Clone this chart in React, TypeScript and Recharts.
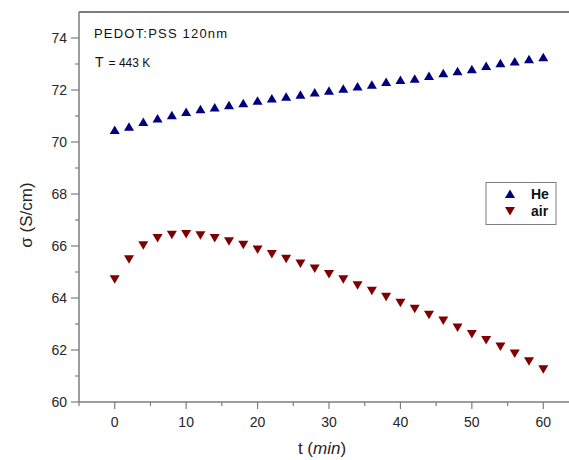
import React from 'react';
import { ScatterChart, Scatter, XAxis, YAxis, ReferenceLine } from 'recharts';

const times = [0, 2, 4, 6, 8, 10, 12, 14, 16, 18, 20, 22, 24, 26, 28, 30, 32, 34, 36, 38, 40, 42, 44, 46, 48, 50, 52, 54, 56, 58, 60];
const heValues = [70.46, 70.59, 70.77, 70.9, 71.03, 71.15, 71.26, 71.33, 71.41, 71.49, 71.59, 71.67, 71.74, 71.82, 71.9, 71.97, 72.05, 72.13, 72.2, 72.31, 72.38, 72.43, 72.54, 72.64, 72.72, 72.8, 72.92, 73.03, 73.1, 73.18, 73.26];
const airValues = [64.72, 65.49, 66.03, 66.31, 66.43, 66.46, 66.41, 66.31, 66.18, 66.05, 65.87, 65.69, 65.51, 65.33, 65.13, 64.92, 64.72, 64.49, 64.28, 64.05, 63.82, 63.59, 63.36, 63.13, 62.87, 62.62, 62.38, 62.13, 61.87, 61.57, 61.26];
const xTicks = [-5, 0, 5, 10, 15, 20, 25, 30, 35, 40, 45, 50, 55, 60];
const yTicks = [60, 61, 62, 63, 64, 65, 66, 67, 68, 69, 70, 71, 72, 73, 74];
const seriesNames = ['He', 'air'];

const heData = times.map((t, i) => ({ t, v: heValues[i] }));
const airData = times.map((t, i) => ({ t, v: airValues[i] }));

const AXIS = '#7d7d7d';
const FONT = 'Arial, "Liberation Sans", sans-serif';
const HE = '#00007f';
const AIR = '#7f0000';

const TriUp = (props: any) => {
  const { cx, cy, fill } = props;
  return <polygon points={`${cx - 5},${cy + 4} ${cx + 5},${cy + 4} ${cx},${cy - 4.5}`} fill={fill} />;
};
const TriDown = (props: any) => {
  const { cx, cy, fill } = props;
  return <polygon points={`${cx - 5},${cy - 4} ${cx + 5},${cy - 4} ${cx},${cy + 4.5}`} fill={fill} />;
};

const XTick = (props: any) => {
  const { x, y, payload } = props;
  const major = payload.value % 10 === 0;
  return (
    <g>
      <line x1={x} x2={x} y1={y} y2={y + (major ? 7 : 4)} stroke={AXIS} strokeWidth={1.2} />
      {major && (
        <text x={x} y={y + 25} textAnchor="middle" fontSize={14} fontFamily={FONT} fill="#262626">
          {payload.value}
        </text>
      )}
    </g>
  );
};

const YTick = (props: any) => {
  const { x, y, payload } = props;
  const major = payload.value % 2 === 0;
  return (
    <g>
      <line x1={x} x2={x - (major ? 8 : 4)} y1={y} y2={y} stroke={AXIS} strokeWidth={1.2} />
      {major && (
        <text x={x - 12} y={y + 5} textAnchor="end" fontSize={14} fontFamily={FONT} fill="#262626">
          {payload.value}
        </text>
      )}
    </g>
  );
};

const XTitle = (props: any) => {
  const { viewBox } = props;
  const cx = viewBox.x + viewBox.width / 2 - 2;
  return (
    <text x={cx} y={viewBox.y + 52} textAnchor="middle" fontSize={17} fontFamily={FONT} fill="#262626">
      t (<tspan fontStyle="italic">min</tspan>)
    </text>
  );
};

const YTitle = () => (
  <text x={32} y={215} transform="rotate(-90, 32, 215)" textAnchor="middle" fontSize={17} fontFamily={FONT} fill="#262626">
    σ (S/cm)
  </text>
);

export default function App() {
  return (
    <div style={{ position: 'absolute', left: 0, top: 0, width: 569, height: 460, background: '#fff' }}>
      <ScatterChart width={569} height={460} margin={{ top: 12, right: 0, bottom: 0, left: 0 }}>
        <XAxis
          type="number"
          dataKey="t"
          domain={[-5, 63.6]}
          ticks={xTicks}
          interval={0}
          height={58}
          tickSize={0}
          tickMargin={0}
          tickLine={false}
          tick={<XTick />}
          axisLine={{ stroke: AXIS, strokeWidth: 1.5 }}
          allowDataOverflow
          label={{ content: <XTitle /> }}
        />
        <YAxis
          type="number"
          dataKey="v"
          domain={[60, 75]}
          ticks={yTicks}
          interval={0}
          width={79}
          tickSize={0}
          tickMargin={0}
          tickLine={false}
          tick={<YTick />}
          axisLine={{ stroke: AXIS, strokeWidth: 1.5 }}
          allowDataOverflow
          label={{ content: <YTitle /> }}
        />
        <ReferenceLine y={75} stroke={AXIS} strokeWidth={2} />
        <Scatter name={seriesNames[0]} data={heData} fill={HE} shape={<TriUp />} isAnimationActive={false} />
        <Scatter name={seriesNames[1]} data={airData} fill={AIR} shape={<TriDown />} isAnimationActive={false} />
      </ScatterChart>
      <svg width={569} height={460} style={{ position: 'absolute', left: 0, top: 0, pointerEvents: 'none' }}>
        <text x={94} y={38} fontSize={13} fontFamily={FONT} letterSpacing={1.2} fill="#111">
          PEDOT:PSS 120nm
        </text>
        <text x={95} y={67} fontFamily={FONT} fill="#111">
          <tspan fontSize={14}>T</tspan>
          <tspan fontSize={12} dx={5}>= 443 K</tspan>
        </text>
        <g fontFamily={FONT}>
          <rect x={486} y={182.5} width={70} height={42} fill="#fff" stroke={AXIS} strokeWidth={1} />
          <polygon points="505,198 515,198 510,189.5" fill={HE} />
          <text x={531} y={199} fontSize={14} fontWeight="bold" fill="#111">{seriesNames[0]}</text>
          <polygon points="505,207 515,207 510,215.5" fill={AIR} />
          <text x={531} y={216} fontSize={14} fontWeight="bold" fill="#111">{seriesNames[1]}</text>
        </g>
      </svg>
    </div>
  );
}
